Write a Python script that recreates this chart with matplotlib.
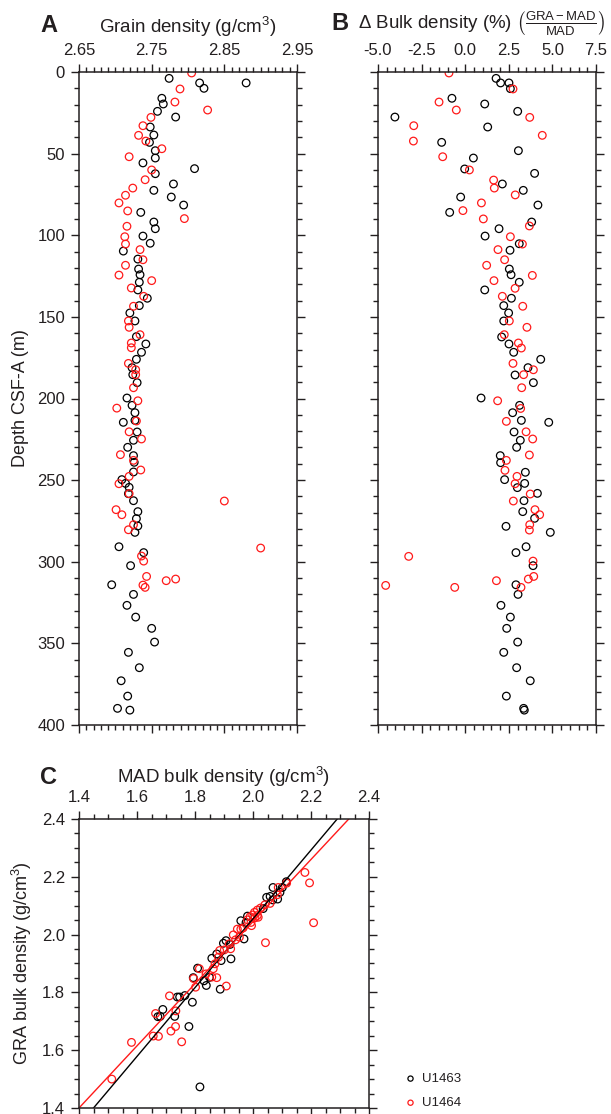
import numpy as np
import matplotlib
matplotlib.use("Agg")
import matplotlib.pyplot as plt
from matplotlib.ticker import MultipleLocator, FixedLocator

plt.rcParams['font.family'] = ['Liberation Sans', 'DejaVu Sans']
plt.rcParams['mathtext.fontset'] = 'custom'
plt.rcParams['mathtext.rm'] = 'Liberation Sans'
plt.rcParams['mathtext.it'] = 'Liberation Sans:italic'
plt.rcParams['mathtext.bf'] = 'Liberation Sans:bold'

# ---- panel A: grain density vs depth ----
depth_a_u1463 = [3.9, 6.7, 6.7, 10.0, 16.1, 19.6, 24.1, 27.6, 33.7, 38.6, 43.1, 48.2, 52.7, 55.7, 59.2,
                 62.3, 68.6, 72.5, 76.6, 81.5, 86.0, 91.9, 96.0, 100.5, 104.9, 109.7, 114.6, 120.7, 124.2,
                 128.8, 133.5, 138.6, 143.1, 147.6, 152.5, 162.1, 166.6, 171.7, 176.0, 181.1, 185.4, 190.3,
                 199.7, 204.2, 208.7, 213.4, 214.6, 220.5, 225.6, 229.9, 235.0, 239.1, 245.0, 249.7, 252.0,
                 254.4, 258.3, 262.6, 269.3, 273.6, 278.1, 282.0, 290.8, 294.4, 302.4, 314.1, 320.0, 326.7,
                 333.9, 340.8, 349.2, 355.5, 364.9, 372.9, 382.3, 389.8, 390.9]
grain_u1463 = [2.774, 2.816, 2.880, 2.822, 2.764, 2.766, 2.758, 2.783, 2.748, 2.753, 2.747, 2.755, 2.755, 2.738,
               2.809, 2.755, 2.780, 2.753, 2.777, 2.794, 2.735, 2.753, 2.755, 2.738, 2.748, 2.711, 2.731, 2.732,
               2.734, 2.733, 2.731, 2.744, 2.733, 2.720, 2.727, 2.729, 2.742, 2.736, 2.729, 2.723, 2.724, 2.730,
               2.716, 2.723, 2.727, 2.727, 2.711, 2.730, 2.725, 2.717, 2.725, 2.726, 2.725, 2.709, 2.714, 2.719,
               2.718, 2.725, 2.731, 2.729, 2.731, 2.727, 2.705, 2.739, 2.721, 2.695, 2.725, 2.716, 2.728, 2.750,
               2.754, 2.718, 2.733, 2.708, 2.717, 2.703, 2.720]
depth_a_u1464 = [0.6, 10.4, 18.4, 23.3, 27.8, 32.9, 38.8, 42.3, 47.0, 51.9, 60.0, 66.0, 71.1, 75.5, 80.2, 85.1,
                 89.8, 94.5, 100.9, 105.4, 108.8, 115.0, 118.4, 124.4, 127.8, 132.3, 137.4, 143.5, 152.5,
                 156.4, 160.9, 166.0, 168.9, 178.5, 182.4, 185.4, 193.4, 201.4, 205.9, 213.8, 220.4, 224.8,
                 234.4, 237.9, 243.8, 247.7, 252.2, 258.3, 262.8, 268.1, 271.2, 277.3, 280.4, 291.6, 296.5,
                 299.6, 309.0, 310.6, 311.6, 314.3, 315.7]
grain_u1464 = [2.805, 2.789, 2.782, 2.827, 2.749, 2.738, 2.732, 2.742, 2.764, 2.719, 2.750, 2.741, 2.724, 2.714,
               2.705, 2.717, 2.795, 2.716, 2.713, 2.714, 2.734, 2.738, 2.714, 2.705, 2.750, 2.722, 2.739, 2.725,
               2.718, 2.719, 2.734, 2.722, 2.722, 2.718, 2.728, 2.728, 2.725, 2.731, 2.702, 2.729, 2.719, 2.736,
               2.707, 2.725, 2.735, 2.719, 2.705, 2.719, 2.850, 2.701, 2.709, 2.725, 2.718, 2.900, 2.736, 2.739,
               2.743, 2.783, 2.770, 2.738, 2.741]
grain_ticks = [2.65, 2.75, 2.85, 2.95]

# ---- panel B: delta bulk density vs depth ----
depth_b_u1463 = [3.9, 6.7, 6.7, 10.2, 16.1, 19.6, 24.1, 27.6, 33.7, 43.1, 48.2, 52.7, 59.4, 62.1, 68.6, 72.5,
                 76.6, 81.5, 86.0, 91.9, 96.0, 100.5, 105.2, 109.2, 120.7, 124.2, 128.8, 133.5, 138.6, 143.1,
                 147.6, 152.5, 162.3, 166.6, 171.7, 176.0, 181.1, 185.6, 190.3, 199.7, 204.2, 208.7, 213.4,
                 214.6, 220.5, 225.6, 229.9, 235.0, 239.3, 245.2, 249.7, 252.0, 254.6, 258.1, 262.6, 269.3,
                 273.4, 278.3, 282.0, 290.8, 294.4, 302.4, 314.1, 320.0, 326.7, 333.9, 340.8, 349.2, 355.5,
                 364.9, 372.9, 382.3, 389.8, 390.9]
dbulk_u1463 = [1.77, 2.03, 2.51, 2.59, -0.76, 1.12, 3.01, -4.03, 1.29, -1.35, 3.05, 0.47, -0.03, 3.98, 2.13,
               3.33, -0.26, 4.17, -0.89, 3.81, 1.94, 1.14, 3.10, 2.57, 2.53, 2.63, 3.10, 1.12, 2.65, 2.21, 2.49,
               2.21, 2.09, 2.51, 2.78, 4.33, 3.60, 2.86, 3.91, 0.91, 3.12, 2.72, 3.22, 4.79, 2.80, 3.16, 2.95,
               2.01, 2.03, 3.45, 2.26, 3.41, 2.99, 4.14, 3.37, 3.30, 3.98, 2.34, 4.88, 3.49, 2.91, 3.89, 2.91,
               3.03, 2.05, 2.59, 2.38, 3.01, 2.21, 2.95, 3.73, 2.36, 3.35, 3.39]
depth_b_u1464 = [0.6, 10.4, 18.4, 23.3, 27.8, 32.9, 38.8, 42.3, 51.9, 60.0, 66.2, 71.1, 75.3, 80.2, 84.9, 90.0,
                 94.3, 100.9, 105.4, 108.8, 115.0, 118.4, 124.6, 127.8, 132.5, 137.4, 143.5, 152.5, 156.4,
                 160.9, 166.0, 169.1, 178.5, 182.4, 185.4, 193.4, 201.4, 206.1, 214.0, 220.4, 224.8, 234.6,
                 237.9, 244.0, 247.7, 252.2, 258.5, 262.8, 268.1, 271.2, 277.3, 280.6, 296.7, 299.6, 309.0,
                 310.6, 311.6, 314.5, 315.7, 315.7]
dbulk_u1464 = [-0.93, 2.74, -1.50, -0.51, 3.70, -2.95, 4.42, -2.97, -1.29, 0.24, 1.63, 1.67, 2.87, 0.93, -0.13,
               1.04, 3.68, 2.59, 3.28, 1.88, 2.26, 1.23, 3.85, 1.65, 2.86, 2.13, 3.30, 2.53, 3.54, 2.24, 3.05,
               3.22, 2.74, 3.91, 3.35, 3.24, 1.86, 3.18, 2.36, 3.49, 3.87, 3.68, 2.36, 2.28, 2.97, 2.86, 3.73,
               2.76, 4.00, 4.27, 3.70, 3.68, -3.24, 3.89, 3.93, 3.62, 1.79, -4.56, -0.60, 3.20]

# ---- panel C: MAD vs GRA bulk density ----
mad_u1463 = [1.672, 1.689, 1.680, 1.739, 1.747, 1.765, 1.730, 1.779, 1.791, 1.817, 1.831, 1.839, 1.887, 1.850,
             2.115, 2.101, 2.069, 2.093, 2.047, 2.059, 2.068, 2.085, 2.035, 1.981, 1.976, 1.958, 1.969, 1.907,
             1.898, 1.921, 1.875, 1.858, 1.924, 1.890, 1.809, 1.794]
gra_u1463 = [1.716, 1.741, 1.717, 1.784, 1.784, 1.789, 1.717, 1.682, 1.766, 1.473, 1.840, 1.824, 1.811, 1.852,
             2.183, 2.163, 2.163, 2.146, 2.129, 2.132, 2.120, 2.123, 2.090, 2.064, 2.042, 2.048, 1.985, 1.979,
             1.970, 1.966, 1.933, 1.918, 1.916, 1.910, 1.884, 1.851]
mad_u1464 = [1.513, 1.581, 1.656, 1.674, 1.664, 1.712, 1.734, 1.733, 1.717, 1.754, 1.802, 1.908,
             2.179, 2.195, 2.209, 2.043, 2.116, 2.087, 2.084, 2.059, 2.041, 2.026, 2.015, 2.005, 1.999, 2.015,
             2.007, 1.990, 1.981, 1.993, 2.018, 1.995, 1.966, 1.946, 1.958, 1.953, 1.932, 1.940, 1.918, 1.901,
             1.885, 1.923, 1.881, 1.869, 1.863, 1.815, 1.838, 1.858, 1.875, 1.795]
gra_u1464 = [1.500, 1.627, 1.649, 1.648, 1.727, 1.788, 1.736, 1.682, 1.666, 1.629, 1.818, 1.822,
             2.215, 2.179, 2.041, 1.972, 2.178, 2.163, 2.138, 2.108, 2.103, 2.092, 2.085, 2.077, 2.068, 2.066,
             2.058, 2.062, 2.051, 2.042, 2.060, 2.031, 2.023, 2.019, 2.019, 1.991, 1.999, 1.982, 1.968, 1.947,
             1.945, 1.951, 1.922, 1.899, 1.882, 1.882, 1.864, 1.853, 1.851, 1.848]
# regression lines (slope, intercept) as drawn
fit_u1463 = (1.19, -0.3255)
fit_u1464 = (1.075, -0.105)

ink = '#231f20'
red = '#ff1a1a'
W, H = 611, 1114

fig = plt.figure(figsize=(W / 100, H / 100), dpi=100)


def box(l, t, r, b):
    return [l / W, 1 - b / H, (r - l) / W, (b - t) / H]


def style(ax):
    for s in ax.spines.values():
        s.set_linewidth(1.1)
        s.set_color(ink)
    ax.tick_params(which='both', direction='out', top=True, bottom=True, left=True, right=True,
                   labeltop=True, labelbottom=False, labelleft=True, labelright=False,
                   colors=ink, labelsize=12, width=1.0)
    ax.tick_params(which='major', length=6, pad=4)
    ax.tick_params(which='minor', length=3.5)


mk = dict(s=30, facecolors='none', linewidths=0.9)

# A
axa = fig.add_axes(box(79, 72, 297, 725))
axa.scatter(grain_u1463, depth_a_u1463, edgecolors='black', **mk)
axa.scatter(grain_u1464, depth_a_u1464, edgecolors=red, **mk)
axa.set_xlim(2.65, 2.95)
axa.set_ylim(400, 0)
axa.xaxis.set_major_locator(FixedLocator(grain_ticks))
axa.xaxis.set_minor_locator(MultipleLocator(0.01))
axa.yaxis.set_major_locator(MultipleLocator(50))
axa.yaxis.set_minor_locator(MultipleLocator(10))
axa.xaxis.set_major_formatter(plt.FuncFormatter(lambda v, p: f'{v:.2f}'))
style(axa)
axa.set_ylabel('Depth CSF-A (m)', fontsize=13, color=ink, labelpad=6)

# B
axb = fig.add_axes(box(378, 72, 596, 725))
axb.scatter(dbulk_u1463, depth_b_u1463, edgecolors='black', **mk)
axb.scatter(dbulk_u1464, depth_b_u1464, edgecolors=red, **mk)
axb.set_xlim(-5, 7.5)
axb.set_ylim(400, 0)
axb.xaxis.set_major_locator(MultipleLocator(2.5))
axb.xaxis.set_minor_locator(MultipleLocator(0.5))
axb.yaxis.set_major_locator(MultipleLocator(50))
axb.yaxis.set_minor_locator(MultipleLocator(10))
axb.xaxis.set_major_formatter(plt.FuncFormatter(lambda v, p: f'{v:.1f}'))
style(axb)
axb.tick_params(labelleft=False)

# C
axc = fig.add_axes(box(79, 819, 369, 1108))
axc.scatter(mad_u1463, gra_u1463, edgecolors='black', **mk)
axc.scatter(mad_u1464, gra_u1464, edgecolors=red, **mk)
xx = np.array([1.3, 2.5])
axc.plot(xx, fit_u1463[0] * xx + fit_u1463[1], color='black', lw=1.0)
axc.plot(xx, fit_u1464[0] * xx + fit_u1464[1], color=red, lw=1.0)
axc.set_xlim(1.4, 2.4)
axc.set_ylim(1.4, 2.4)
for a in (axc.xaxis, axc.yaxis):
    a.set_major_locator(MultipleLocator(0.2))
    a.set_minor_locator(MultipleLocator(0.05))
    a.set_major_formatter(plt.FuncFormatter(lambda v, p: f'{v:.1f}'))
style(axc)
axc.set_ylabel('GRA bulk density (g/cm$^3$)', fontsize=13, color=ink, labelpad=6)

# legend outside C
axc.scatter([], [], edgecolors='black', facecolors='none', s=14, linewidths=0.9, label='U1463')
axc.scatter([], [], edgecolors=red, facecolors='none', s=14, linewidths=0.9, label='U1464')
h, l = axc.get_legend_handles_labels()
fig.legend(h[-2:], l[-2:], loc='center left', bbox_to_anchor=(396 / W, 1 - 1091 / H), frameon=False,
           fontsize=9.5, handletextpad=0.3, labelspacing=0.9, borderpad=0, handlelength=1.2,
           labelcolor=ink)


# titles
def ft(x, y, s, **kw):
    fig.text(x / W, 1 - y / H, s, color=ink, va='center', **kw)


ft(40, 26, 'A', fontsize=17, fontweight='bold', ha='left')
ft(188, 27, 'Grain density (g/cm$^3$)', fontsize=13.5, ha='center')
ft(331, 24, 'B', fontsize=17, fontweight='bold', ha='left')
ft(358, 24, r'$\Delta$ Bulk density (%) $\left(\frac{\mathrm{GRA-MAD}}{\mathrm{MAD}}\right)$',
   fontsize=13.5, ha='left')
ft(40, 777, 'C', fontsize=17, fontweight='bold', ha='left')
ft(224, 777, 'MAD bulk density (g/cm$^3$)', fontsize=13.5, ha='center')

fig.savefig('out.png', dpi=100)
